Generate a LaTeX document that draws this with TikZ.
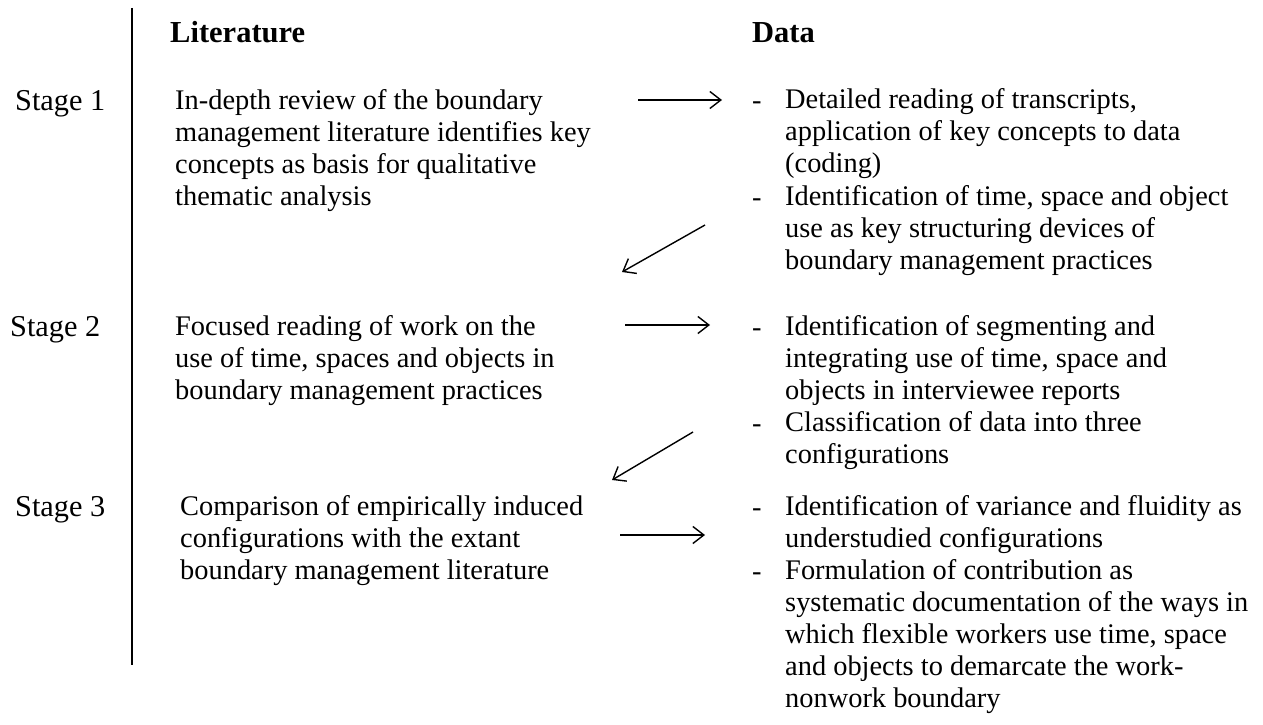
\documentclass[tikz,border=0pt]{standalone}
\usepackage{fontspec}
\setmainfont{Liberation Serif}
\usetikzlibrary{arrows.meta}

\begin{document}
\begin{tikzpicture}[x=1pt,y=-1pt]
  % Styles for the text blocks and the arrows
  \tikzset{
    txt/.style={anchor=base west, inner sep=0pt, align=left,
                font=\fontsize{28.4}{32}\selectfont},
    block/.style={txt, anchor=north west, execute at begin node=\strut},
    stagelbl/.style={txt, font=\fontsize{30.3}{32}\selectfont},
    hdr/.style={txt, font=\fontsize{30.5}{32}\selectfont\bfseries},
    flow/.style={line width=1.4pt, -{Straight Barb[length=11pt,width=17pt,line width=1.4pt]}}
  }
  \useasboundingbox (0,0) rectangle (1263,725);

  % Divider between stage labels and content
  \draw[line width=1.8pt] (132,8) coordinate (topline) -- (132,665) coordinate (botline);

  % Column headings
  \node[hdr] (lit)  at (170,43) {Literature};
  \node[hdr] (data) at (752,43) {Data};

  % Stage labels
  \node[stagelbl] (stage1) at (15,110) {Stage 1};
  \node[stagelbl] (stage2) at (10,336) {Stage 2};
  \node[stagelbl] (stage3) at (15,516) {Stage 3};

  % Literature column (block tops sit about 20 above the first baseline)
  \node[block] (lit1) at (175,89.6) {In-depth review of the boundary\\management literature identifies key\\concepts as basis for qualitative\\thematic analysis};
  \node[block] (lit2) at (175,315.6) {Focused reading of work on the\\use of time, spaces and objects in\\boundary management practices};
  \node[block] (lit3) at (180,495.6) {Comparison of empirically induced\\configurations with the extant\\boundary management literature};

  % Data column, stage 1
  \node[txt]   (dash1a) at (752,109) {-};
  \node[block] (data1a) at (785,88.6) {Detailed reading of transcripts,\\application of key concepts to data\\(coding)};
  \node[txt]   (dash1b) at (752,206) {-};
  \node[block] (data1b) at (785,185.6) {Identification of time, space and object\\use as key structuring devices of\\boundary management practices};

  % Data column, stage 2
  \node[txt]   (dash2a) at (752,336) {-};
  \node[block] (data2a) at (785,315.6) {Identification of segmenting and\\integrating use of time, space and\\objects in interviewee reports};
  \node[txt]   (dash2b) at (752,432) {-};
  \node[block] (data2b) at (785,411.6) {Classification of data into three\\configurations};

  % Data column, stage 3
  \node[txt]   (dash3a) at (752,516) {-};
  \node[block] (data3a) at (785,495.6) {Identification of variance and fluidity as\\understudied configurations};
  \node[txt]   (dash3b) at (752,580) {-};
  \node[block] (data3b) at (785,559.6) {Formulation of contribution as\\systematic documentation of the ways in\\which flexible workers use time, space\\and objects to demarcate the work-\\nonwork boundary};

  % Arrow end points
  \coordinate (out1) at (638,100);
  \coordinate (in1)  at (722,100);
  \coordinate (up1)  at (705,225);
  \coordinate (dn1)  at (622,272);
  \coordinate (out2) at (625,325);
  \coordinate (in2)  at (710,325);
  \coordinate (up2)  at (693,432);
  \coordinate (dn2)  at (612,480);
  \coordinate (out3) at (620,535);
  \coordinate (in3)  at (705,535);

  % Arrows between the columns
  \draw[flow] (out1) -- (in1);
  \draw[flow] (up1) -- (dn1);
  \draw[flow] (out2) -- (in2);
  \draw[flow] (up2) -- (dn2);
  \draw[flow] (out3) -- (in3);
\end{tikzpicture}
\end{document}
